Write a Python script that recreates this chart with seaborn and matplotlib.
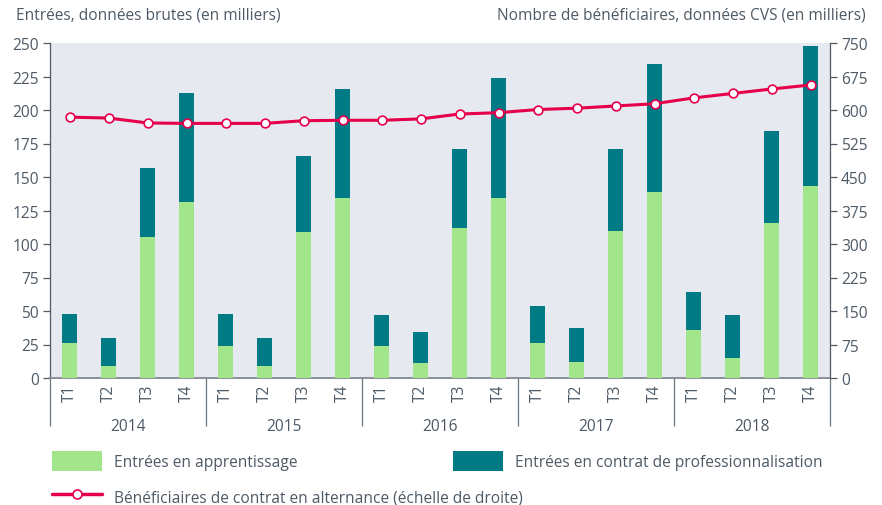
import matplotlib
matplotlib.use("Agg")
import matplotlib.pyplot as plt
import seaborn as sns
import numpy as np
import pandas as pd
from matplotlib.patches import Patch
from matplotlib.lines import Line2D

# données (en milliers)
annees = ["2014", "2015", "2016", "2017", "2018"]
trimestres = ["T1", "T2", "T3", "T4"]
apprentissage = [26, 9, 105, 131,
                 24, 9, 109, 134,
                 24, 11, 112, 134,
                 26, 12, 110, 139,
                 36, 15, 116, 143]
total_entrees = [48, 30, 157, 213,
                 48, 30, 166, 216,
                 47, 34, 171, 224,
                 54, 37, 171, 234,
                 64, 47, 184, 248]
beneficiaires = [584, 582, 571, 570,
                 570, 570, 576, 577,
                 577, 580, 591, 594,
                 601, 604, 609, 614,
                 627, 637, 647, 656]

VERT = "#a3e58a"
BLEU = "#007a84"
ROUGE = "#e6004c"
GRIS = "#4d5a66"
FOND = "#e6e9ef"
FS = 11.2

sns.set_style("white")
plt.rcParams["font.family"] = ["Open Sans", "DejaVu Sans"]
plt.rcParams["text.color"] = GRIS
plt.rcParams["xtick.color"] = GRIS
plt.rcParams["ytick.color"] = GRIS

periodes = [f"{a} {t}" for a in annees for t in trimestres]
df = pd.DataFrame({"periode": periodes, "apprentissage": apprentissage,
                   "total": total_entrees, "beneficiaires": beneficiaires})

fig = plt.figure(figsize=(8.82, 5.06), dpi=100)
ax = fig.add_axes([50 / 882, 1 - 379 / 506, 780 / 882, 335 / 506])
ax.set_facecolor(FOND)

sns.barplot(data=df, x="periode", y="total", color=BLEU, saturation=1,
            width=0.41, linewidth=0, ax=ax, zorder=2)
sns.barplot(data=df, x="periode", y="apprentissage", color=VERT, saturation=1,
            width=0.41, linewidth=0, ax=ax, zorder=3)

ax.set_xlim(-0.5, 19.5)
ax.set_ylim(0, 250)
ax.set_yticks(np.arange(0, 251, 25))
ax.set_xlabel("")
ax.set_ylabel("")
ax.set_xticks(range(20))
ax.set_xticklabels(trimestres * len(annees), rotation=90, fontsize=FS)
ax.tick_params(axis="x", length=0, pad=4)
ax.set_xticks(np.arange(-0.5, 20, 1), minor=True)
ax.tick_params(axis="x", which="minor", length=18, width=0.9, color="#6b757e",
               direction="out")
ax.tick_params(axis="y", labelsize=FS, length=5, width=0.9, color=GRIS,
               direction="out", pad=3)
for s in ["top", "right"]:
    ax.spines[s].set_visible(False)
ax.spines["left"].set_color(GRIS)
ax.spines["left"].set_linewidth(0.9)
ax.spines["bottom"].set_color("#8a9096")
ax.spines["bottom"].set_linewidth(1.4)

# séparateurs et libellés des années
sep = ax.secondary_xaxis("bottom")
sep.set_xticks(np.arange(-0.5, 20, 4), labels=[""] * 6)
sep.tick_params(length=34.5, width=0.9, color="#6b757e")
sep.spines["bottom"].set_visible(False)
yr = ax.secondary_xaxis("bottom")
yr.set_xticks(np.arange(1.5, 20, 4), labels=annees)
yr.tick_params(length=0, pad=29, labelsize=FS, labelcolor=GRIS)
yr.spines["bottom"].set_visible(False)

# bénéficiaires, échelle de droite
ax2 = ax.twinx()
sns.lineplot(x=np.arange(20), y=df["beneficiaires"], ax=ax2, color=ROUGE,
             linewidth=2.2, marker="o", markersize=6.3, markerfacecolor="white",
             markeredgecolor=ROUGE, markeredgewidth=1.2, zorder=5)
ax2.set_ylim(0, 750)
ax2.set_yticks(np.arange(0, 751, 75))
ax2.set_ylabel("")
ax2.tick_params(axis="y", labelsize=FS, length=5, width=0.9, color=GRIS,
                direction="out", pad=3)
for s in ["top", "left", "bottom"]:
    ax2.spines[s].set_visible(False)
ax2.spines["right"].set_color(GRIS)
ax2.spines["right"].set_linewidth(0.9)
ax2.set_xlim(-0.5, 19.5)

fig.text(16 / 882, 1 - 16 / 506, "Entrées, données brutes (en milliers)",
         fontsize=FS, va="center", ha="left")
fig.text(866 / 882, 1 - 16 / 506,
         "Nombre de bénéficiaires, données CVS (en milliers)",
         fontsize=FS, va="center", ha="right")

h_vert = Patch(facecolor=VERT, edgecolor="none")
h_bleu = Patch(facecolor=BLEU, edgecolor="none")
h_ligne = Line2D([], [], color=ROUGE, linewidth=2.5, marker="o", markersize=6.5,
                 markerfacecolor="white", markeredgecolor=ROUGE,
                 markeredgewidth=1.2)
opts = dict(frameon=False, fontsize=FS, handlelength=3.2, handleheight=1.65,
            handletextpad=0.8, labelspacing=0.95, borderpad=0, borderaxespad=0,
            loc="upper left", labelcolor=GRIS)
fig.legend([h_vert, h_ligne],
           ["Entrées en apprentissage",
            "Bénéficiaires de contrat en alternance (échelle de droite)"],
           bbox_to_anchor=(52 / 882, 1 - 452 / 506), **opts)
fig.legend([h_bleu], ["Entrées en contrat de professionnalisation"],
           bbox_to_anchor=(453 / 882, 1 - 452 / 506), **opts)

fig.savefig("out.png", dpi=100, facecolor="white")
